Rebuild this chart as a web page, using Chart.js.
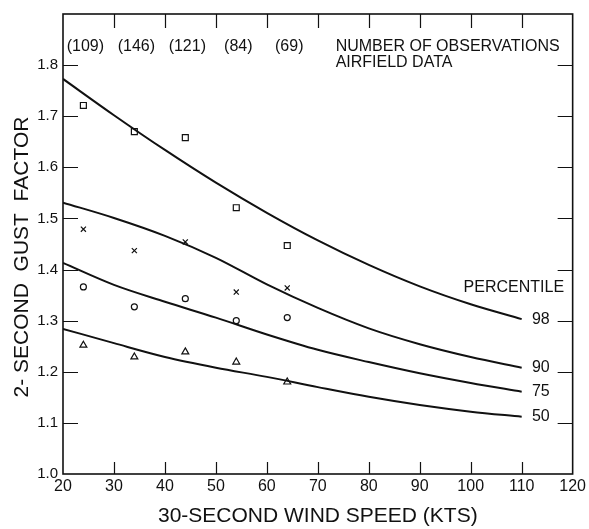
<!DOCTYPE html>
<html>
<head>
<meta charset="utf-8">
<script src="https://cdn.jsdelivr.net/npm/chart.js@4.4.1/dist/chart.umd.min.js"></script>
<style>
  html, body { margin: 0; padding: 0; background: #ffffff; }
  #wrap { width: 589px; height: 529px; }
</style>
</head>
<body>
<div id="wrap"><canvas id="gust" width="589" height="529"></canvas></div>
<script>
// 30-second wind speed (kts) at which the fitted percentile curves are given
const curveSpeeds = [20, 30, 40, 50, 60, 70, 80, 90, 100, 110];
// Fitted 2-second gust factor curves, by percentile
const curve98 = [1.773, 1.702, 1.634, 1.570, 1.511, 1.457, 1.409, 1.367, 1.332, 1.303];
const curve90 = [1.531, 1.501, 1.466, 1.423, 1.371, 1.325, 1.285, 1.254, 1.229, 1.208];
const curve75 = [1.413, 1.370, 1.337, 1.306, 1.273, 1.243, 1.219, 1.197, 1.178, 1.161];
const curve50 = [1.284, 1.256, 1.229, 1.208, 1.190, 1.170, 1.151, 1.135, 1.122, 1.112];
const percentileNames = ['98', '90', '75', '50'];

// Airfield observations, binned by wind speed
const obsSpeeds = [24, 34, 44, 54, 64];
const obsCounts = ['(109)', '(146)', '(121)', '(84)', '(69)'];
const obs98 = [1.721, 1.670, 1.658, 1.521, 1.447];
const obs90 = [1.479, 1.437, 1.454, 1.356, 1.364];
const obs75 = [1.366, 1.327, 1.343, 1.300, 1.306];
const obs50 = [1.252, 1.229, 1.239, 1.219, 1.180];

// Axis ticks
const xTicks = [20, 30, 40, 50, 60, 70, 80, 90, 100, 110, 120];
const yTicks = [1.0, 1.1, 1.2, 1.3, 1.4, 1.5, 1.6, 1.7, 1.8];

const FONT = "'Liberation Sans', Arial, sans-serif";
const INK = '#111111';

const pts = (xs, ys) => xs.map((x, i) => ({ x: x, y: ys[i] }));

function curveSet(values) {
  return {
    data: pts(curveSpeeds, values),
    showLine: true,
    borderColor: INK,
    borderWidth: 2,
    pointRadius: 0,
    cubicInterpolationMode: 'monotone',
    fill: false
  };
}

function markerSet(values, style, radius) {
  return {
    data: pts(obsSpeeds, values),
    showLine: false,
    pointStyle: style,
    pointRadius: radius,
    borderColor: INK,
    borderWidth: 1.2,
    backgroundColor: 'rgba(0,0,0,0)'
  };
}

// Frame, inward tick marks and all the annotation lettering
const framePlugin = {
  id: 'frame',
  beforeDatasetsDraw(chart) {
    const { ctx, chartArea: a, scales: { x, y } } = chart;
    ctx.save();
    ctx.strokeStyle = INK;
    ctx.lineWidth = 1.6;
    ctx.strokeRect(a.left, a.top, a.right - a.left, a.bottom - a.top);
    ctx.lineWidth = 1.2;
    ctx.beginPath();
    yTicks.forEach(v => {
      if (v <= 1.0) return;
      const py = Math.round(y.getPixelForValue(v)) + 0.5;
      ctx.moveTo(a.left, py); ctx.lineTo(a.left + 15, py);
      ctx.moveTo(a.right, py); ctx.lineTo(a.right - 15, py);
    });
    xTicks.forEach(v => {
      if (v <= 20 || v >= 120) return;
      const px = Math.round(x.getPixelForValue(v)) + 0.5;
      ctx.moveTo(px, a.top); ctx.lineTo(px, a.top + 14);
      ctx.moveTo(px, a.bottom); ctx.lineTo(px, a.bottom - 12);
    });
    ctx.stroke();
    ctx.restore();
  },
  afterDatasetsDraw(chart) {
    const { ctx, chartArea: a, scales: { x, y } } = chart;
    ctx.save();
    ctx.fillStyle = INK;
    ctx.textBaseline = 'middle';

    // observation counts above each speed bin
    ctx.font = '16px ' + FONT;
    ctx.textAlign = 'center';
    const countY = y.getPixelForValue(1.837);
    obsSpeeds.forEach((s, i) => {
      ctx.fillText(obsCounts[i], x.getPixelForValue(s) + 2, countY);
    });

    ctx.textAlign = 'left';
    const noteX = x.getPixelForValue(73.5);
    ctx.fillText('NUMBER OF OBSERVATIONS', noteX, countY);
    ctx.fillText('AIRFIELD DATA', noteX, y.getPixelForValue(1.804));

    // percentile captions at the right-hand end of each curve
    ctx.fillText('PERCENTILE', x.getPixelForValue(98.6), y.getPixelForValue(1.364));
    const ends = [curve98, curve90, curve75, curve50];
    const lastX = curveSpeeds[curveSpeeds.length - 1];
    ends.forEach((c, i) => {
      ctx.fillText(percentileNames[i], x.getPixelForValue(lastX + 2), y.getPixelForValue(c[c.length - 1]));
    });

    // vertical axis title
    ctx.font = '21px ' + FONT;
    ctx.textAlign = 'center';
    ctx.translate(22.5, 257);
    ctx.rotate(-Math.PI / 2);
    ctx.fillText('2- SECOND  GUST  FACTOR', 0, 0);
    ctx.restore();
  }
};

Chart.defaults.font.family = FONT;
Chart.defaults.color = INK;

new Chart(document.getElementById('gust'), {
  type: 'scatter',
  data: {
    datasets: [
      curveSet(curve98),
      curveSet(curve90),
      curveSet(curve75),
      curveSet(curve50),
      markerSet(obs98, 'rect', 4.2),
      markerSet(obs90, 'crossRot', 3.6),
      markerSet(obs75, 'circle', 3),
      markerSet(obs50, 'triangle', 4)
    ]
  },
  options: {
    responsive: false,
    devicePixelRatio: 1,
    animation: false,
    layout: { padding: { top: 9, right: 12, left: 0, bottom: 0 } },
    plugins: { legend: { display: false }, tooltip: { enabled: false } },
    scales: {
      x: {
        type: 'linear',
        min: 20,
        max: 120,
        afterBuildTicks: s => { s.ticks = xTicks.map(v => ({ value: v })); },
        afterFit: s => { s.height = 55; },
        grid: { display: false, drawTicks: false },
        border: { display: false },
        ticks: { font: { size: 16 }, color: INK, padding: 3, maxRotation: 0, autoSkip: false },
        title: { display: true, text: '30-SECOND WIND SPEED (KTS)', font: { size: 21 }, color: INK, padding: 0 }
      },
      y: {
        type: 'linear',
        min: 1.0,
        max: 1.9,
        afterBuildTicks: s => { s.ticks = yTicks.map(v => ({ value: v })); },
        afterFit: s => { s.width = 63; },
        grid: { display: false, drawTicks: false },
        border: { display: false },
        ticks: { font: { size: 15 }, color: INK, padding: 5, callback: v => Number(v).toFixed(1) }
      }
    }
  },
  plugins: [framePlugin]
});
</script>
</body>
</html>
